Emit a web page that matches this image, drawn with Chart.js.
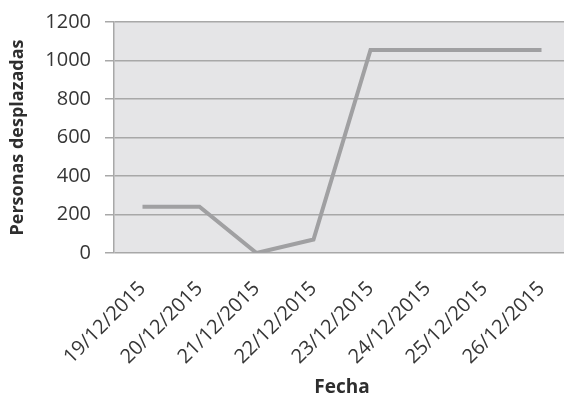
<!DOCTYPE html>
<html>
<head>
<meta charset="utf-8">
<script src="https://cdn.jsdelivr.net/npm/chart.js@4.4.0/dist/chart.umd.min.js"></script>
<style>
  html, body { margin: 0; padding: 0; background: #fff; overflow: hidden; }
  #wrap { width: 572px; height: 393px; }
</style>
</head>
<body>
<div id="wrap"><canvas id="chart"></canvas></div>
<script>
const fechas = ["19/12/2015", "20/12/2015", "21/12/2015", "22/12/2015",
                "23/12/2015", "24/12/2015", "25/12/2015", "26/12/2015"];
const desplazados = [240, 240, 0, 70, 1055, 1055, 1055, 1055];
const yTicks = [0, 200, 400, 600, 800, 1000, 1200];

const textColor = "#363636";
const fontFamily = "'Open Sans', 'DejaVu Sans', sans-serif";

// gray fill behind the plotting area
const plotBackground = {
  id: "plotBackground",
  beforeDraw(chart) {
    const { ctx, chartArea: a } = chart;
    ctx.save();
    ctx.fillStyle = "#e5e5e7";
    ctx.fillRect(a.left, a.top, a.right - a.left, a.bottom - a.top);
    ctx.restore();
  },
};

new Chart(document.getElementById("chart").getContext("2d"), {
  type: "line",
  data: {
    labels: fechas,
    datasets: [
      {
        data: desplazados,
        borderColor: "#a0a0a2",
        borderWidth: 4,
        tension: 0,
        pointRadius: 0,
        fill: false,
      },
    ],
  },
  options: {
    responsive: true,
    maintainAspectRatio: false,
    animation: false,
    layout: { padding: { top: 22, right: 2, left: 0, bottom: 0 } },
    plugins: { legend: { display: false }, tooltip: { enabled: false } },
    scales: {
      y: {
        min: 0,
        max: 1200,
        afterBuildTicks: (axis) => { axis.ticks = yTicks.map((v) => ({ value: v })); },
        afterFit: (axis) => { axis.width = 114; axis.paddingTop = 0; },
        ticks: {
          color: textColor,
          padding: 14,
          font: { family: fontFamily, size: 20, lineHeight: 1 },
          callback: (v) => String(v),
        },
        grid: { color: "#a8a8a8", lineWidth: 1.5, tickLength: 9 },
        border: { display: true, color: "#a8a8a8", width: 1.5 },
        title: {
          display: true,
          text: "Personas desplazadas",
          color: "#2e2e2e",
          font: { family: fontFamily, size: 18, weight: "bold" },
          padding: { top: 7, bottom: 0 },
        },
      },
      x: {
        offset: true,
        afterFit: (axis) => {
          axis.height = 140;
          axis.paddingLeft = 0;
          axis.paddingRight = 0;
        },
        ticks: {
          color: textColor,
          minRotation: 45,
          maxRotation: 45,
          padding: 16,
          font: { family: fontFamily, size: 20 },
        },
        grid: { display: false },
        border: { display: false },
        title: {
          display: true,
          text: "Fecha",
          color: "#2e2e2e",
          font: { family: fontFamily, size: 19, weight: "bold" },
          padding: { top: 0, bottom: -6 },
        },
      },
    },
  },
  plugins: [plotBackground],
});
</script>
</body>
</html>
